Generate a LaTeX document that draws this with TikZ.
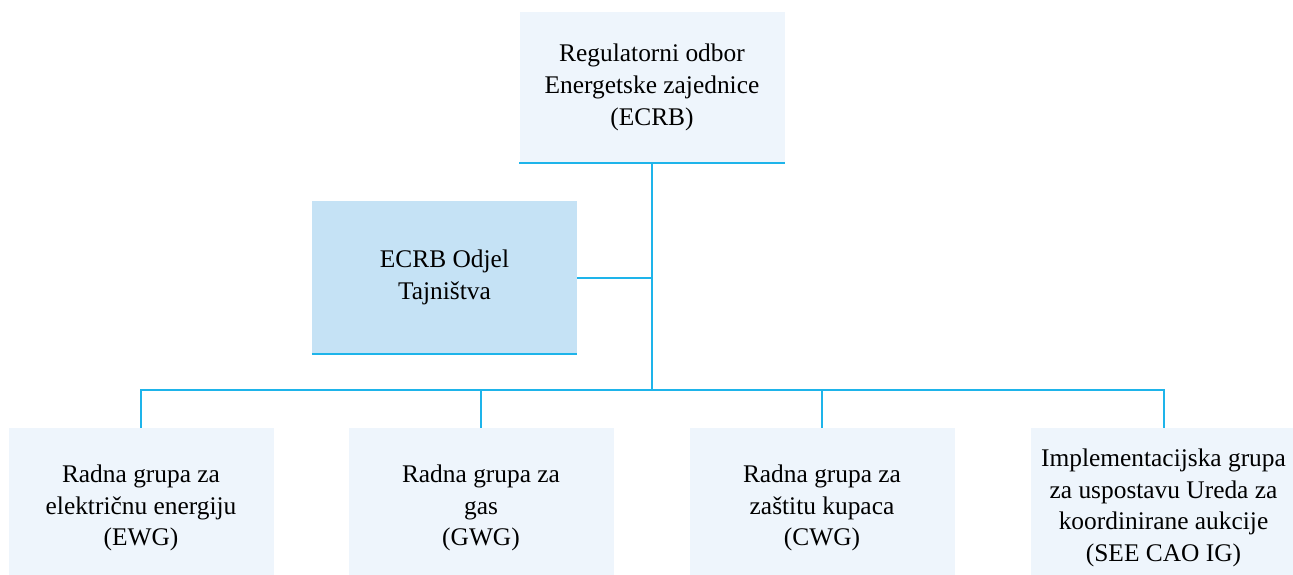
\documentclass[tikz,border=0pt]{standalone}
\usepackage{fontspec}
\setmainfont{Liberation Serif}
\definecolor{boxfill}{HTML}{EEF5FC}
\definecolor{secfill}{HTML}{C5E2F5}
\definecolor{linkblue}{HTML}{1EB4EA}
\tikzset{
    unit/.style={fill=boxfill, minimum width=265pt, minimum height=160pt,
        align=center, inner sep=0pt, font=\fontsize{25.4}{31.7}\selectfont},
    link/.style={draw=linkblue, line width=2pt},
}
\begin{document}
\begin{tikzpicture}[x=1pt, y=-1pt]
    \useasboundingbox (0,0) rectangle (1293,574);

    % Regulatory board
    \node[unit, minimum height=151pt] (ecrb) at (652,87.5)
        {Regulatorni odbor\\Energetske zajednice\\(ECRB)};
    \draw[link] (ecrb.south west) -- (ecrb.south east);

    % Secretariat
    \node[unit, fill=secfill, minimum height=153pt] (sec) at (444.5,277.5)
        {ECRB Odjel\\Tajništva};
    \draw[link] (sec.south west) -- (sec.south east);

    % Working groups (boxes run past the bottom edge)
    \node[unit] (ewg) at (141,508) {Radna grupa za\\električnu energiju\\(EWG)};
    \node[unit] (gwg) at (481,508) {Radna grupa za\\gas\\(GWG)};
    \node[unit] (cwg) at (822,508) {Radna grupa za\\zaštitu kupaca\\(CWG)};
    \node[unit] (cao) at (1163.5,508)
        {Implementacijska grupa\\za uspostavu Ureda za\\koordinirane aukcije\\(SEE CAO IG)};

    % Links
    \coordinate (bus) at (652,390);
    \draw[link] (ecrb.south) -- (bus);
    \draw[link] (sec.east) -- (sec.east -| ecrb.south);
    \draw[link] (ewg.north) -- (ewg.north |- bus) -- (cao.north |- bus) -- (cao.north);
    \draw[link] (gwg.north) -- (gwg.north |- bus);
    \draw[link] (cwg.north) -- (cwg.north |- bus);

\end{tikzpicture}
\end{document}
